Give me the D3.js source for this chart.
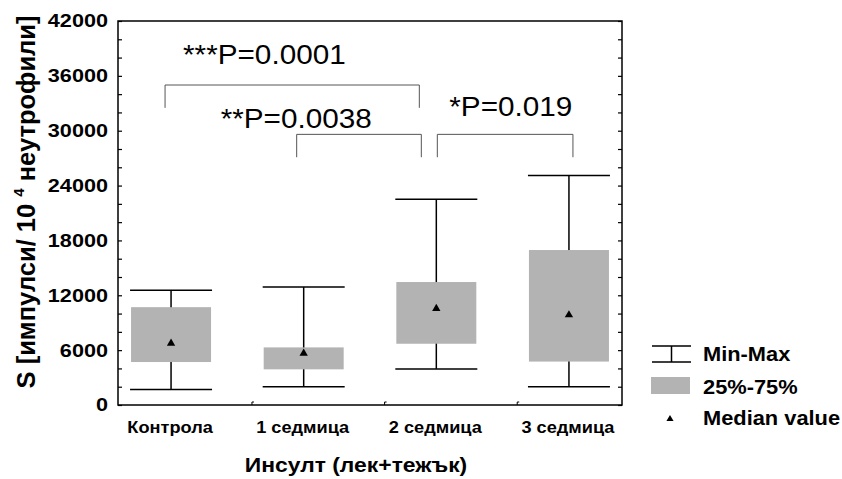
<!DOCTYPE html>
<html>
<head>
<meta charset="utf-8">
<script src="https://cdn.jsdelivr.net/npm/d3@7"></script>
<style>
  html, body { margin: 0; padding: 0; background: #fff; }
  svg { display: block; font-family: Arial, "Liberation Sans", sans-serif; }
</style>
</head>
<body>
<svg id="chart" width="842" height="479"></svg>
<script>
// Box-plot summary per group
const categories = ["Контрола", "1 седмица", "2 седмица", "3 седмица"];
const minValues    = [1700, 2000, 3950, 2000];
const q1Values     = [4700, 3900, 6700, 4750];
const medianValues = [6750, 5650, 10550, 9850];
const q3Values     = [10700, 6300, 13450, 16950];
const maxValues    = [12550, 12900, 22500, 25100];

// Axis ticks
const yTickLabels = [0, 6000, 12000, 18000, 24000, 30000, 36000, 42000];
const yMinorStep = 2000;

// Pairwise comparisons
const compFrom   = ["Контрола", "1 седмица", "2 седмица"];
const compTo     = ["2 седмица", "2 седмица", "3 седмица"];
const compLabels = ["***P=0.0001", "**P=0.0038", "*P=0.019"];
const compBar    = [35000, 29600, 29600];
const compDrop   = [32500, 27100, 27100];

const legendLabels = ["Min-Max", "25%-75%", "Median value"];

const svg = d3.select("#chart");
const frame = { left: 118, right: 622, top: 21, bottom: 405 };

const x = d3.scalePoint().domain(categories).range([frame.left, frame.right]).padding(0.4);
const y = d3.scaleLinear().domain([0, 42000]).range([frame.bottom, frame.top]);

const boxFill = "#b3b3b3";
const boxW = 80, capW = 82;

// Text helper: horizontally widened glyphs, anchored at (tx, ty)
function wideText(parent, tx, ty, str, size, sx, opts = {}) {
  const t = parent.append("text")
    .attr("transform", `translate(${tx},${ty}) scale(${sx},1)`)
    .attr("font-size", size)
    .attr("fill", "#000")
    .attr("text-anchor", opts.anchor || "start")
    .text(str);
  if (opts.bold) t.attr("font-weight", "bold");
  if (opts.baseline) t.attr("dominant-baseline", opts.baseline);
  return t;
}

// Boxes, whiskers, caps, medians
const groups = categories.map((c, i) => ({
  cat: c, min: minValues[i], q1: q1Values[i], med: medianValues[i], q3: q3Values[i], max: maxValues[i]
}));

const g = svg.append("g");
groups.forEach(d => {
  const cx = x(d.cat);
  g.append("line").attr("x1", cx).attr("x2", cx).attr("y1", y(d.max)).attr("y2", y(d.min))
    .attr("stroke", "#000").attr("stroke-width", 1.5);
  g.append("rect").attr("x", cx - boxW / 2).attr("width", boxW)
    .attr("y", y(d.q3)).attr("height", y(d.q1) - y(d.q3)).attr("fill", boxFill);
  [d.min, d.max].forEach(v => {
    g.append("line").attr("x1", cx - capW / 2).attr("x2", cx + capW / 2)
      .attr("y1", y(v)).attr("y2", y(v)).attr("stroke", "#000").attr("stroke-width", 1.5);
  });
  g.append("path").attr("d", d3.symbol(d3.symbolTriangle, 30)())
    .attr("transform", `translate(${cx},${y(d.med)})`).attr("fill", "#000");
});

// Frame and ticks
svg.append("rect").attr("x", frame.left).attr("y", frame.top)
  .attr("width", frame.right - frame.left).attr("height", frame.bottom - frame.top)
  .attr("fill", "none").attr("stroke", "#000").attr("stroke-width", 1.5);

const minorTicks = d3.range(0, 42000 + 1, yMinorStep);
svg.append("g").attr("transform", `translate(${frame.left},0)`)
  .call(d3.axisRight(y).tickValues(minorTicks).tickSize(4).tickFormat(""))
  .call(a => a.select(".domain").remove())
  .call(a => a.selectAll("line").attr("stroke-width", 1.2));
svg.append("g").attr("transform", `translate(${frame.right},0)`)
  .call(d3.axisLeft(y).tickValues(minorTicks).tickSize(4).tickFormat(""))
  .call(a => a.select(".domain").remove())
  .call(a => a.selectAll("line").attr("stroke-width", 1.2));

// Y tick labels
const yLab = svg.append("g");
yTickLabels.forEach(v => {
  wideText(yLab, frame.left - 10, y(v), d3.format("d")(v), 18.5, 1.17,
    { bold: true, anchor: "end", baseline: "central" });
});

// Small category ticks along the bottom
const step = x.step();
categories.slice(0, 3).forEach(c => {
  const tx = x(c) + step * 0.61;
  svg.append("path").attr("d", `M${tx},${frame.bottom} V${frame.bottom - 3} h2`)
    .attr("fill", "none").attr("stroke", "#000").attr("stroke-width", 1);
});

// Category labels
const catLab = svg.append("g");
categories.forEach(c => wideText(catLab, x(c) - 1, 433, c, 17, 1.07, { bold: true, anchor: "middle" }));

// Axis titles
wideText(svg, 356, 472, "Инсулт (лек+тежък)", 21, 1.09, { bold: true, anchor: "middle" });

const yTitle = svg.append("text").attr("transform", "translate(35,202) rotate(-90)")
  .attr("text-anchor", "middle").attr("font-size", 25.5).attr("font-weight", "bold");
yTitle.append("tspan").text("S [импулси/ 10 ");
yTitle.append("tspan").attr("font-size", 15).attr("dy", -11).text("4");
yTitle.append("tspan").attr("dy", 11).text(" неутрофили]");

// Comparison brackets
const labelPos = [
  { dx: 12, v: 37300 },
  { dx: -83, v: 30300 },
  { dx: 13, v: 31600 }
];
const endAdj = [[-6, -17], [-7, -15], [1, 4]];
compLabels.forEach((lab, i) => {
  const x1 = x(compFrom[i]) + endAdj[i][0];
  const x2 = x(compTo[i]) + endAdj[i][1];
  svg.append("path")
    .attr("d", `M${x1},${y(compDrop[i])} V${y(compBar[i])} H${x2} V${y(compDrop[i])}`)
    .attr("fill", "none").attr("stroke", "#555").attr("stroke-width", 1);
  wideText(svg, x(compFrom[i]) + labelPos[i].dx, y(labelPos[i].v), lab, 27, 1.1);
});

// Legend
const lg = svg.append("g");
lg.append("path").attr("d", "M652,346 H691 M652,362 H691 M671.5,346 V362")
  .attr("fill", "none").attr("stroke", "#000").attr("stroke-width", 1.5);
lg.append("rect").attr("x", 651).attr("y", 377).attr("width", 39).attr("height", 17).attr("fill", boxFill);
lg.append("path").attr("d", d3.symbol(d3.symbolTriangle, 22)()).attr("transform", "translate(670,419)").attr("fill", "#000");
const legendY = [361, 394, 425];
legendLabels.forEach((t, i) => wideText(lg, 703, legendY[i], t, 19.5, 1.12, { bold: true }));
</script>
</body>
</html>
